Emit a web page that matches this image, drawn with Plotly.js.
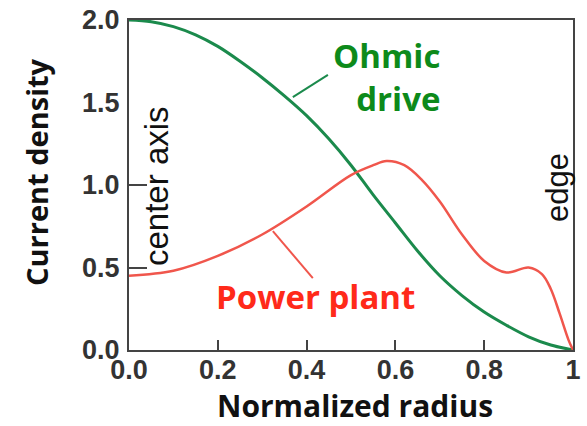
<!DOCTYPE html>
<html>
<head>
<meta charset="utf-8">
<script src="https://cdn.plot.ly/plotly-3.0.1.min.js"></script>
<style>html,body{margin:0;padding:0;background:#fff;}#chart{width:587px;height:426px;}</style>
</head>
<body>
<div id="chart"></div>
<script>
// Ohmic drive current profile
const ohmicX = [0, 0.05, 0.1, 0.15, 0.2, 0.25, 0.3, 0.35, 0.4, 0.45, 0.5, 0.55, 0.6, 0.65, 0.7, 0.75, 0.8, 0.85, 0.9, 0.95, 1.0];
const ohmicY = [2.0, 1.99, 1.96, 1.91, 1.84, 1.75, 1.65, 1.54, 1.42, 1.28, 1.12, 0.94, 0.77, 0.60, 0.45, 0.33, 0.23, 0.15, 0.08, 0.03, 0.0];
// Power plant current profile
const plantX = [0, 0.1, 0.2, 0.3, 0.4, 0.5, 0.55, 0.58, 0.62, 0.66, 0.7, 0.75, 0.8, 0.85, 0.9, 0.93, 0.95, 0.97, 0.99, 1.0];
const plantY = [0.45, 0.48, 0.57, 0.70, 0.87, 1.06, 1.12, 1.145, 1.12, 1.03, 0.90, 0.70, 0.54, 0.47, 0.50, 0.46, 0.37, 0.22, 0.06, 0.0];
// tick labels
const xTickVals = [0, 0.2, 0.4, 0.6, 0.8, 1.0];
const xTickText = ['0.0', '0.2', '0.4', '0.6', '0.8', '1'];
const yTickVals = [0, 0.5, 1.0, 1.5, 2.0];
const yTickText = ['0.0', '0.5', '1.0', '1.5', '2.0'];
const yMarkVals = [0.5, 1.0];
// label pointer lines [x0, y0, x1, y1]
const ohmicPointer = [0.369, 1.533, 0.448, 1.667];
const plantPointer = [0.324, 0.72, 0.414, 0.436];

const green = '#1b8a4c', red = '#f0564c';
const data = [
  {x: ohmicX, y: ohmicY, mode: 'lines', line: {color: green, width: 3, shape: 'spline'}, hoverinfo: 'skip'},
  {x: plantX, y: plantY, mode: 'lines', line: {color: red, width: 2.5, shape: 'spline'}, hoverinfo: 'skip'},
  {x: [0], y: [0], yaxis: 'y2', mode: 'markers', marker: {opacity: 0}, hoverinfo: 'skip'}
];
const tickFont = {family: 'Liberation Sans, Arial, sans-serif', size: 27, color: '#333', weight: 'bold'};
const pw = 587 - 129 - 14, ph = 426 - 20 - 76;
const px = v => (v - 129) / pw, py = v => (350 - v) / ph;
const layout = {
  width: 587, height: 426,
  margin: {l: 129, r: 14, t: 20, b: 76},
  paper_bgcolor: '#fff', plot_bgcolor: '#fff',
  showlegend: false,
  xaxis: {
    range: [0, 1.0], tickvals: xTickVals, ticktext: xTickText,
    ticks: 'inside', ticklen: 10, tickwidth: 2, tickcolor: '#444',
    showline: true, linecolor: '#444', linewidth: 2, mirror: true,
    showgrid: false, zeroline: false, tickfont: tickFont, ticklabelstandoff: -5
  },
  yaxis: {
    range: [0, 2.0], tickvals: yTickVals, ticktext: yTickText,
    ticks: '', showline: true, linecolor: '#444', linewidth: 2, mirror: true,
    showgrid: false, zeroline: false, tickfont: tickFont, ticklabelstandoff: 2
  },
  yaxis2: {
    overlaying: 'y', range: [0, 2.0], tickvals: yMarkVals, showticklabels: false,
    ticks: 'inside', ticklen: 18, tickwidth: 2, tickcolor: '#444',
    showgrid: false, zeroline: false, showline: false
  },
  shapes: [
    {type: 'line', xref: 'x', yref: 'y', x0: ohmicPointer[0], y0: ohmicPointer[1], x1: ohmicPointer[2], y1: ohmicPointer[3], line: {color: green, width: 2}},
    {type: 'line', xref: 'x', yref: 'y', x0: plantPointer[0], y0: plantPointer[1], x1: plantPointer[2], y1: plantPointer[3], line: {color: red, width: 2}}
  ],
  annotations: [
    {x: 0.705, y: 1.655, xref: 'x', yref: 'y', xanchor: 'right', yanchor: 'middle', align: 'right', showarrow: false,
     text: 'Ohmic<br>drive', font: {family: 'Open Sans, sans-serif', size: 33, color: '#0d8a1a', weight: 'bold'}},
    {x: 0.42, y: 0.327, xref: 'x', yref: 'y', xanchor: 'center', yanchor: 'middle', showarrow: false,
     text: 'Power plant', font: {family: 'Open Sans, sans-serif', size: 33, color: '#ff2a1a', weight: 'bold'}},
    {x: px(156), y: py(186), xref: 'paper', yref: 'paper', xanchor: 'center', yanchor: 'middle', showarrow: false, textangle: -90,
     text: 'center axis', font: {family: 'Liberation Sans, Arial, sans-serif', size: 33, color: '#111'}},
    {x: px(558), y: py(188), xref: 'paper', yref: 'paper', xanchor: 'center', yanchor: 'middle', showarrow: false, textangle: -90,
     text: 'edge', font: {family: 'Liberation Sans, Arial, sans-serif', size: 31, color: '#111'}},
    {x: px(36), y: py(172), xref: 'paper', yref: 'paper', xanchor: 'center', yanchor: 'middle', showarrow: false, textangle: -90,
     text: 'Current density', font: {family: 'Open Sans, sans-serif', size: 29, color: '#111', weight: 'bold'}},
    {x: px(355), y: py(405), xref: 'paper', yref: 'paper', xanchor: 'center', yanchor: 'middle', showarrow: false,
     text: 'Normalized radius', font: {family: 'Open Sans, sans-serif', size: 30, color: '#111', weight: 'bold'}}
  ]
};
Plotly.newPlot('chart', data, layout, {staticPlot: true});
</script>
</body>
</html>
